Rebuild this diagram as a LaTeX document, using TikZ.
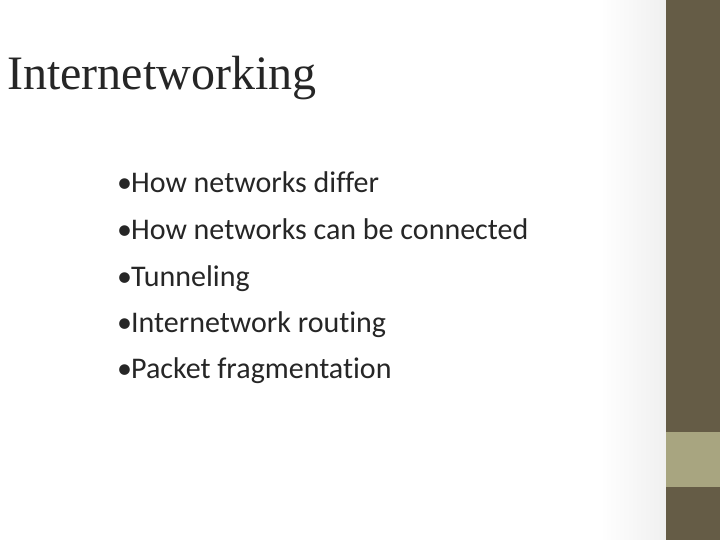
\documentclass[tikz,border=0pt]{standalone}
\usepackage{fontspec}
\setmainfont{Liberation Serif}
\newfontfamily\bodyfont[Ligatures={NoCommon}]{Carlito}
\definecolor{barDark}{HTML}{655C46}
\definecolor{barLight}{HTML}{A8A580}
\definecolor{txt}{HTML}{262626}
\tikzset{bullet/.style={anchor=base west,inner sep=0pt,font=\bodyfont\fontsize{30}{34}\selectfont,text=txt}}
\begin{document}
\begin{tikzpicture}[x=1pt,y=-1pt]
\useasboundingbox (0,0) rectangle (720,540);
\fill[white] (0,0) rectangle (720,540);
\shade[left color=white,right color=black!6] (600,0) rectangle (666,540);
\fill[barDark] (666,0) rectangle (720,540);
\fill[barLight] (666,432) rectangle (720,487);
\node[anchor=base west,inner sep=0pt,font=\fontsize{48}{52}\selectfont,text=txt] (title) at (7,90) {Internetworking};
\node[bullet] (b1) at (117,193) {•\hspace{-1pt}How networks differ};
\node[bullet] (b2) at (117,240) {•\hspace{-1pt}How networks can be connected};
\node[bullet] (b3) at (117,286) {•\hspace{-1pt}Tunneling};
\node[bullet] (b4) at (117,332) {•\hspace{-1pt}Internetwork routing};
\node[bullet] (b5) at (117,378) {•\hspace{-1pt}Packet fragmentation};
\end{tikzpicture}
\end{document}
